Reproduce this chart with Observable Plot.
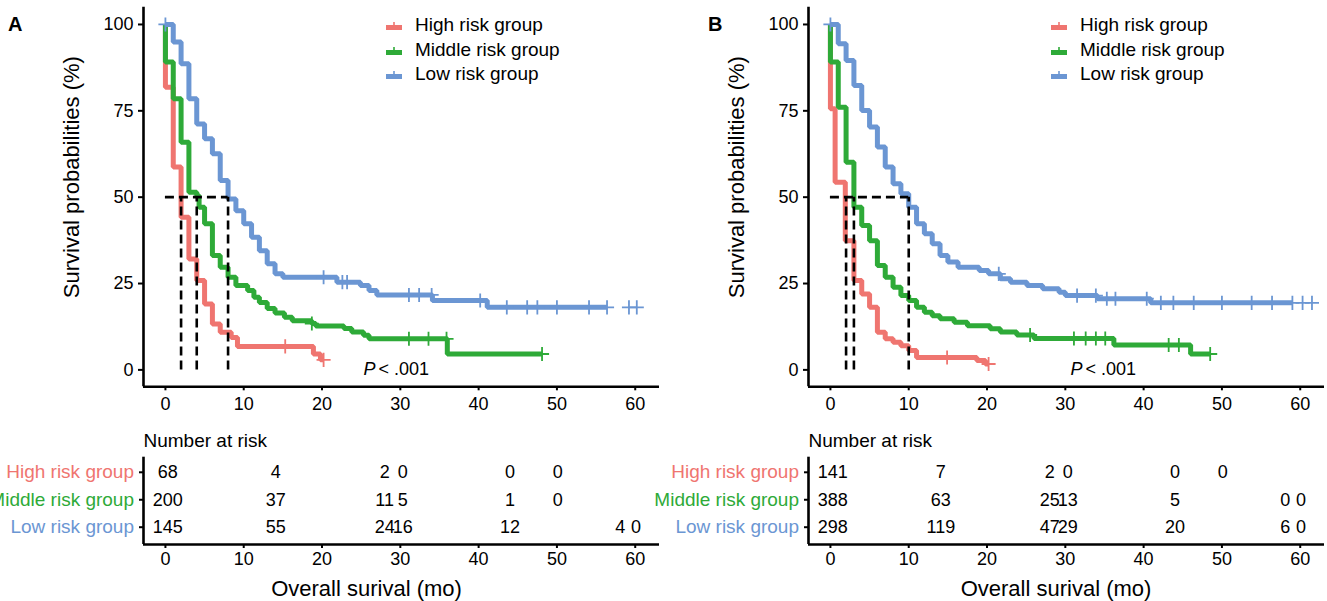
<!DOCTYPE html>
<html><head><meta charset="utf-8">
<script src="https://cdn.jsdelivr.net/npm/d3@7"></script>
<script src="https://cdn.jsdelivr.net/npm/@observablehq/plot@0.6"></script>
<style>
body{margin:0;background:#fff;}
#root{position:relative;width:1327px;height:601px;overflow:hidden;font-family:"Liberation Sans",Arial,sans-serif;background:#fff;}
.panel{position:absolute;top:0;height:601px;}
.panel svg.plot{position:absolute;left:0;}
.tag{position:absolute;font-weight:bold;font-size:20px;line-height:20px;}
.legend{position:absolute;font-size:19px;color:#000;}
.legend .row{display:flex;align-items:center;height:24.5px;white-space:nowrap;}
.legend svg{margin-right:13px;}
</style></head><body><div id="root"></div>
<script>
// ---------- shared ----------
const groups = ["High risk group", "Middle risk group", "Low risk group"];
const colors = ["#EF7570", "#2EAA38", "#6B96D3"];
const xTicks = [0, 10, 20, 30, 40, 50, 60];
const yTicks = [0, 25, 50, 75, 100];
const riskTimes = [0.3, 14.1, 28, 30.3, 44, 50.1, 58.1, 60.1];
const rowPos = [3, 2, 1];
const yTitle = "Survival probabilities (%)";
const xTitle = "Overall surival (mo)";
const riskTitle = "Number at risk";
const pLabel = ["P", "< .001"];

// ---------- panel A ----------
const A_high_t = [0, 0, 1, 2, 3, 4, 5, 6, 7, 8.4, 9.2, 18.9, 19.8, 20.2];
const A_high_s = [100, 81.8, 58.7, 44.2, 32.1, 25.9, 19.1, 13.3, 10.9, 9.4, 6.8, 4.6, 2.9, 2.9];
const A_high_cens = [15.3, 20.2];
const A_mid_t = [0, 0, 1, 2, 3, 4, 4.3, 5, 6, 7, 8, 9, 10.5, 11.3, 12, 13, 14, 15.2, 16.2, 18.7, 19.2, 22.8, 23.8, 25.3, 26, 36, 48.1];
const A_mid_s = [100, 89.1, 78.5, 65.9, 51.4, 50.5, 47.1, 42.3, 33.1, 29.7, 26.8, 24.4, 23, 21, 19.5, 17.8, 16.5, 15.2, 14.2, 13.4, 12.7, 12, 11, 10, 9, 4.6, 4.6];
const A_mid_cens = [18.7, 31.1, 33.6, 35.9, 48.1];
const A_low_t = [0, 1, 2, 3, 4, 5, 6, 7, 8, 9, 10, 11, 12, 13, 14, 15, 21.9, 24.9, 26, 27, 34.1, 41.1, 56.4];
const A_low_s = [100, 94.9, 88.6, 78.5, 71.2, 66.9, 62.6, 54.8, 49.5, 46.1, 42.3, 38.4, 34.5, 30.7, 27.8, 26.8, 25.4, 24.4, 23, 21.7, 20.1, 18.1, 18.1];
const A_low_cens = [0, 20.2, 22.6, 23.2, 31.1, 32.4, 34.0, 40.2, 43.6, 46.2, 47.5, 50, 54.1, 56.4, 59.2, 60.2];
const A_medians = [2, 4, 8];
const A_risk_high = [68, 4, 2, 0, 0, 0, null, null];
const A_risk_mid = [200, 37, 11, 5, 1, 0, null, null];
const A_risk_low = [145, 55, 24, 16, 12, null, 4, 0];
const A_pTime = 25.3;

// ---------- panel B ----------
const B_high_t = [0, 0, 0.6, 1.9, 3, 4, 5, 6, 7, 8, 9, 10, 11, 18.7, 19.8, 20.2];
const B_high_s = [100, 75.6, 54.3, 37.4, 25.9, 22, 18.1, 10.9, 9, 8, 7, 5.6, 3.6, 2.7, 1.7, 1.7];
const B_high_cens = [14.9, 20.2];
const B_mid_t = [0, 0, 1, 2, 3, 4, 5, 6, 7, 8, 9, 10, 11, 12, 13, 14, 15.8, 17.5, 20.4, 21.7, 23.8, 26, 36.2, 46, 48.5];
const B_mid_s = [100, 89.1, 76, 60.1, 47.1, 41.8, 37.4, 30.2, 26.8, 23.9, 21.5, 20.1, 18.1, 16.7, 15.7, 14.8, 13.8, 12.8, 11.9, 11, 10.1, 9.1, 7.2, 4.6, 4.6];
const B_mid_cens = [25.5, 31.1, 32.6, 33.9, 35.1, 43.2, 44.5, 48.5];
const B_low_t = [0, 1, 2, 3, 4, 5, 6, 7, 8, 9, 10, 11, 12, 13, 14, 15, 16.3, 19, 20.2, 21.7, 23, 25.1, 27.1, 29.2, 30, 34.1, 40.9, 59];
const B_low_s = [100, 94.4, 89.6, 82.3, 75.1, 70.3, 64.5, 58.7, 53.9, 51, 47.1, 42.3, 39.4, 36.5, 33.1, 31.2, 29.7, 28.8, 27.8, 26.4, 25.4, 24.4, 23.5, 22.5, 21.5, 20.6, 19.4, 19.4];
const B_low_cens = [0, 21.5, 31.5, 33.9, 35.3, 36.4, 40.4, 42.2, 43.8, 46.4, 50, 53.8, 56.4, 59, 60.3, 61.5];
const B_medians = [2, 3, 10];
const B_risk_high = [141, 7, 2, 0, 0, 0, null, null];
const B_risk_mid = [388, 63, 25, 13, 5, null, 0, 0];
const B_risk_low = [298, 119, 47, 29, 20, null, 6, 0];
const B_pTime = 30.65;

// ---------- layout ----------
const xDom = [-2.8, 63.1];
const yDom = [-4.9, 105];
const tDom = [0.37, 3.55];
const FONT = '"Liberation Sans", Arial, sans-serif';

function stepAt(t, s, x) {
  let v = s[0];
  for (let i = 0; i < t.length; i++) { if (t[i] <= x) v = s[i]; else break; }
  return v;
}

function makePanel(cfg) {
  const root = document.getElementById("root");
  const panel = document.createElement("div");
  panel.className = "panel";
  panel.style.left = cfg.left + "px";
  panel.style.width = cfg.width + "px";
  root.appendChild(panel);
  const W = cfg.width;
  const mR = W - 659;
  const style = {fontFamily: FONT, fontSize: "18px", background: "transparent", overflow: "visible", color: "#000"};

  const curveMarks = [];
  cfg.curves.forEach((c, i) => {
    const pts = c.t.map((t, j) => ({t, s: c.s[j]}));
    curveMarks.push(Plot.line(pts, {x: "t", y: "s", stroke: colors[i], strokeWidth: 5, curve: "step-after", strokeLinejoin: "miter", strokeLinecap: "butt"}));
  });
  cfg.curves.forEach((c, i) => {
    const cp = c.cens.map(t => ({t, s: stepAt(c.t, c.s, t)}));
    curveMarks.push(Plot.dot(cp, {x: "t", y: "s", symbol: "plus", r: 4.6, stroke: colors[i], strokeWidth: 1.8}));
  });

  const km = Plot.plot({
    width: W, height: 420,
    marginLeft: 143, marginRight: mR, marginTop: 6.7, marginBottom: 33.7,
    x: {domain: xDom}, y: {domain: yDom},
    style,
    marks: [
      Plot.axisX({ticks: xTicks, tickSize: 4, tickPadding: 6, label: null, strokeWidth: 2, fontSize: 18}),
      Plot.axisY({ticks: yTicks, tickSize: 5, tickPadding: 5, label: null, strokeWidth: 2, fontSize: 18}),
      Plot.ruleX([xDom[0]], {strokeWidth: 2.6}),
      Plot.ruleY([yDom[0]], {strokeWidth: 2.6}),
      Plot.text([yTitle], {frameAnchor: "left", textAnchor: "middle", lineAnchor: "middle", rotate: -90, dx: 71.7 - 143, dy: -19.8, fontSize: 22}),
      ...curveMarks,
      Plot.ruleY([50], {x1: 0, x2: d3.max(cfg.medians), stroke: "#000", strokeWidth: 2.6, strokeDasharray: "9,5"}),
      Plot.ruleX(cfg.medians, {x: d => d, y1: 0, y2: 50, stroke: "#000", strokeWidth: 2.6, strokeDasharray: "9,5"}),
      Plot.text([pLabel[0]], {x: cfg.pTime, y: 0.3, textAnchor: "start", fontSize: 18, fontStyle: "italic"}),
      Plot.text([pLabel[1]], {x: cfg.pTime, y: 0.3, textAnchor: "start", dx: 15, fontSize: 18})
    ]
  });
  km.classList.add("plot");
  km.style.top = "0px";
  panel.appendChild(km);

  const riskRows = [];
  cfg.risk.forEach((arr, i) => arr.forEach((n, j) => { if (n !== null) riskRows.push({t: riskTimes[j], y: rowPos[i], n: String(n)}); }));
  const labelMarks = groups.map((g, i) => Plot.text([g], {x: () => xDom[0], y: () => rowPos[i], fill: colors[i], textAnchor: "end", dx: -9.5, fontSize: 19}));

  const tbl = Plot.plot({
    width: W, height: 181,
    marginLeft: 143, marginRight: mR, marginTop: 36.7, marginBottom: 57,
    x: {domain: xDom}, y: {domain: tDom},
    style,
    marks: [
      Plot.axisX({ticks: xTicks, tickSize: 4, tickPadding: 4, label: null, strokeWidth: 2, fontSize: 18}),
      Plot.axisY({ticks: rowPos, tickSize: 4, tickFormat: () => "", label: null, strokeWidth: 2}),
      Plot.ruleX([xDom[0]], {strokeWidth: 2.6}),
      Plot.ruleY([tDom[0]], {strokeWidth: 2.6}),
      Plot.text(riskRows, {x: "t", y: "y", text: "n", fontSize: 18}),
      ...labelMarks,
      Plot.text([riskTitle], {frameAnchor: "top-left", textAnchor: "start", lineAnchor: "middle", dy: -16, fontSize: 19}),
      Plot.text([xTitle], {frameAnchor: "bottom", textAnchor: "middle", lineAnchor: "middle", dx: cfg.titleCenter - 401, dy: 44, fontSize: 22})
    ]
  });
  tbl.classList.add("plot");
  tbl.style.top = "420px";
  panel.appendChild(tbl);

  // legend
  const leg = document.createElement("div");
  leg.className = "legend";
  leg.style.left = "386px";
  leg.style.top = "13px";
  groups.forEach((g, i) => {
    const row = document.createElement("div");
    row.className = "row";
    row.innerHTML = `<svg width="16" height="12" viewBox="0 0 16 12"><line x1="0" x2="16" y1="8.5" y2="8.5" stroke="${colors[i]}" stroke-width="5"/><line x1="8" x2="8" y1="3" y2="8" stroke="${colors[i]}" stroke-width="1.6"/></svg><span>${g}</span>`;
    leg.appendChild(row);
  });
  panel.appendChild(leg);

  const tag = document.createElement("div");
  tag.className = "tag";
  tag.textContent = cfg.tag;
  tag.style.left = (cfg.tagX - cfg.left) + "px";
  tag.style.top = "14.4px";
  panel.appendChild(tag);
}

makePanel({
  left: 0, width: 665, tag: "A", tagX: 8,
  curves: [
    {t: A_high_t, s: A_high_s, cens: A_high_cens},
    {t: A_mid_t, s: A_mid_s, cens: A_mid_cens},
    {t: A_low_t, s: A_low_s, cens: A_low_cens}
  ],
  medians: A_medians,
  risk: [A_risk_high, A_risk_mid, A_risk_low],
  pTime: A_pTime, titleCenter: 366
});
makePanel({
  left: 665, width: 662, tag: "B", tagX: 708,
  curves: [
    {t: B_high_t, s: B_high_s, cens: B_high_cens},
    {t: B_mid_t, s: B_mid_s, cens: B_mid_cens},
    {t: B_low_t, s: B_low_s, cens: B_low_cens}
  ],
  medians: B_medians,
  risk: [B_risk_high, B_risk_mid, B_risk_low],
  pTime: B_pTime, titleCenter: 390.5
});
</script></body></html>
